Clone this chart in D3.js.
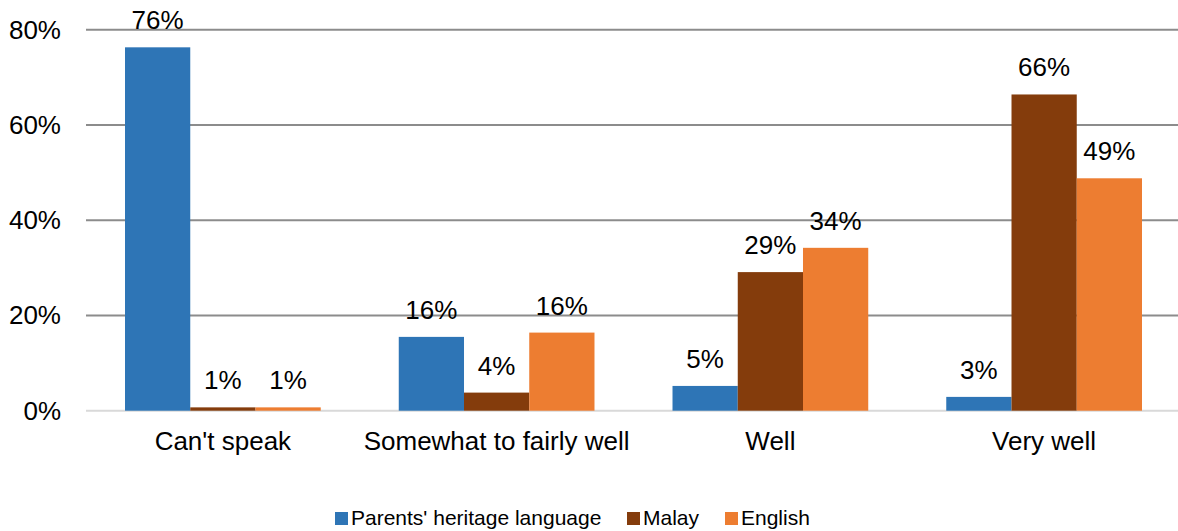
<!DOCTYPE html>
<html>
<head>
<meta charset="utf-8">
<script src="https://cdn.jsdelivr.net/npm/d3@7"></script>
<style>
  body { margin: 0; background: #fff; }
  svg text { font-family: "Liberation Sans", Arial, sans-serif; fill: #000; }
</style>
</head>
<body>
<div id="chart"></div>
<script>
var categories = ["Can't speak", 'Somewhat to fairly well', 'Well', 'Very well'];
var series_names = ["Parents' heritage language", 'Malay', 'English'];
var heritage = [76.3, 15.5, 5.2, 2.9];
var malay = [0.7, 3.8, 29.1, 66.4];
var english = [0.7, 16.4, 34.2, 48.8];
var y_ticks = [0, 20, 40, 60, 80];
var colors = ['#2e75b6', '#843c0c', '#ed7d31'];

var all_series = [heritage, malay, english];

var chart_width = 1178;
var chart_height = 531;

var svg = d3.select('#chart')
    .append('svg')
    .attr('width', chart_width)
    .attr('height', chart_height)

// scales
var x_scale = d3.scaleBand()
    .domain(categories)
    .range([86, 1181])
    .paddingInner(0.285)
    .paddingOuter(0.1425)

var x_inner = d3.scaleBand()
    .domain(series_names)
    .range([0, x_scale.bandwidth()])

var y_scale = d3.scaleLinear()
    .domain([0, 80])
    .range([410.7, 29.7])

// gridlines
svg.selectAll('line.grid')
    .data(y_ticks)
    .enter()
    .append('line')
    .attr('class', 'grid')
    .attr('x1', 86)
    .attr('x2', chart_width)
    .attr('y1', function (d) { return y_scale(d) })
    .attr('y2', function (d) { return y_scale(d) })
    .attr('stroke', function (d) { return d === 0 ? '#d9d9d9' : '#8c8c8c' })
    .attr('stroke-width', 2)

// y axis labels
svg.selectAll('text.ytick')
    .data(y_ticks)
    .enter()
    .append('text')
    .attr('class', 'ytick')
    .attr('x', 61)
    .attr('y', function (d) { return y_scale(d) + 9 })
    .attr('text-anchor', 'end')
    .style('font-size', '26px')
    .text(function (d) { return d + '%' })

// bars
var groups = svg.selectAll('g.series')
    .data(all_series)
    .enter()
    .append('g')
    .attr('class', 'series')
    .attr('fill', function (d, i) { return colors[i] })

groups.each(function (vals, si) {
    var g = d3.select(this);
    g.selectAll('rect')
        .data(vals)
        .enter()
        .append('rect')
        .attr('x', function (d, i) { return x_scale(categories[i]) + x_inner(series_names[si]) })
        .attr('y', function (d) { return y_scale(d) })
        .attr('width', x_inner.bandwidth())
        .attr('height', function (d) { return y_scale(0) - y_scale(d) })

    g.selectAll('text')
        .data(vals)
        .enter()
        .append('text')
        .attr('x', function (d, i) { return x_scale(categories[i]) + x_inner(series_names[si]) + x_inner.bandwidth() / 2 })
        .attr('y', function (d) { return y_scale(d) - 18 })
        .attr('text-anchor', 'middle')
        .style('font-size', '26px')
        .text(function (d) { return Math.round(d) + '%' })
})

// category labels
svg.selectAll('text.xcat')
    .data(categories)
    .enter()
    .append('text')
    .attr('class', 'xcat')
    .attr('x', function (d) { return x_scale(d) + x_scale.bandwidth() / 2 })
    .attr('y', 450)
    .attr('text-anchor', 'middle')
    .style('font-size', '26px')
    .text(function (d) { return d })

// legend
var legend_x = [335, 627, 725];
var legend = svg.selectAll('g.legend')
    .data(series_names)
    .enter()
    .append('g')
    .attr('class', 'legend')
    .attr('transform', function (d, i) { return 'translate(' + legend_x[i] + ',512)' })

legend.append('rect')
    .attr('width', 13)
    .attr('height', 13)
    .attr('fill', function (d, i) { return colors[i] })

legend.append('text')
    .attr('x', 16)
    .attr('y', 13)
    .style('font-size', '21px')
    .text(function (d) { return d })
</script>
</body>
</html>
